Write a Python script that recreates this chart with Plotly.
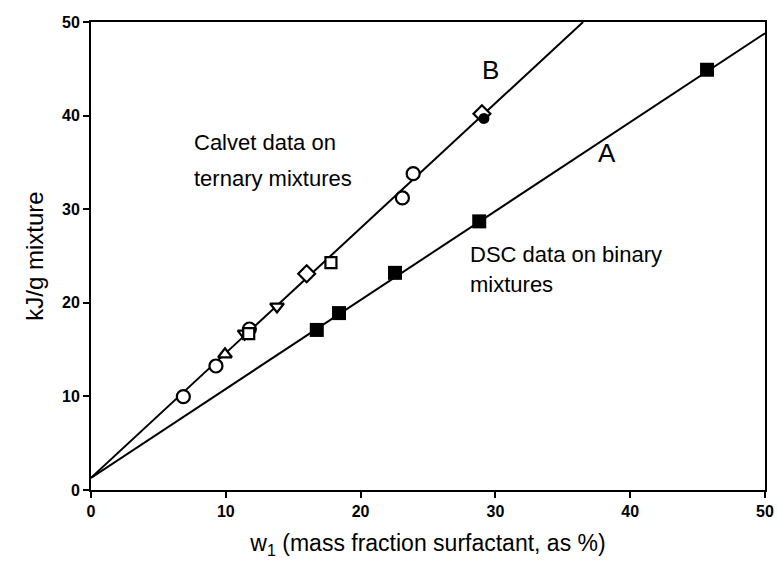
import plotly.graph_objects as go

# Line fits
line_intercept = 1.3
slope_A = 0.95
slope_B = 1.334

# Calvet data on ternary mixtures (open symbols)
calvet_circle_x = [6.85, 9.27, 11.75, 23.1, 23.9]
calvet_circle_y = [9.97, 13.25, 17.2, 31.2, 33.8]
calvet_triup_x = [9.94]
calvet_triup_y = [14.5]
calvet_tridown_x = [11.4, 13.8]
calvet_tridown_y = [16.7, 19.6]
calvet_square_x = [11.7, 17.8]
calvet_square_y = [16.7, 24.3]
calvet_diamond_x = [16.0, 29.0]
calvet_diamond_y = [23.1, 40.2]
calvet_filled_x = [29.15]
calvet_filled_y = [39.7]

# DSC data on binary mixtures (filled squares)
dsc_x = [16.75, 18.4, 22.55, 28.8, 45.7]
dsc_y = [17.1, 18.9, 23.2, 28.7, 44.9]

line_A_x = [0, 50]
line_A_y = [line_intercept + slope_A * x for x in line_A_x]
line_B_x = [0, (50 - line_intercept) / slope_B]
line_B_y = [line_intercept + slope_B * x for x in line_B_x]

FONT = "Liberation Sans, Arial"

fig = go.Figure()
fig.add_trace(go.Scatter(x=line_A_x, y=line_A_y, mode="lines",
                         line=dict(color="black", width=2), showlegend=False))
fig.add_trace(go.Scatter(x=line_B_x, y=line_B_y, mode="lines",
                         line=dict(color="black", width=2), showlegend=False))

def open_marker(x, y, symbol, size):
    fig.add_trace(go.Scatter(x=x, y=y, mode="markers", showlegend=False,
                             marker=dict(symbol=symbol, size=size, color="white",
                                         line=dict(color="black", width=2.2))))

open_marker(calvet_circle_x, calvet_circle_y, "circle", 13)
open_marker(calvet_triup_x, calvet_triup_y, "triangle-up", 12)
open_marker(calvet_tridown_x, calvet_tridown_y, "triangle-down", 12)
open_marker(calvet_square_x, calvet_square_y, "square", 11)
open_marker(calvet_diamond_x, calvet_diamond_y, "diamond", 13)
fig.add_trace(go.Scatter(x=calvet_filled_x, y=calvet_filled_y, mode="markers", showlegend=False,
                         marker=dict(symbol="circle", size=11, color="black")))
fig.add_trace(go.Scatter(x=dsc_x, y=dsc_y, mode="markers", showlegend=False,
                         marker=dict(symbol="square", size=14, color="black")))

txt_font = dict(family=FONT, size=22, color="black")
big_font = dict(family=FONT, size=26, color="black")
annotations = [
    dict(x=29.6, y=44.9, text="B", showarrow=False, font=big_font),
    dict(x=38.3, y=36.0, text="A", showarrow=False, font=big_font),
    dict(x=7.5, y=37.1, text="Calvet data on", showarrow=False, xanchor="left", font=txt_font),
    dict(x=7.5, y=33.3, text="ternary mixtures", showarrow=False, xanchor="left", font=txt_font),
    dict(x=28.0, y=25.2, text="DSC data on binary", showarrow=False, xanchor="left", font=txt_font),
    dict(x=28.0, y=22.0, text="mixtures", showarrow=False, xanchor="left", font=txt_font),
]

tick_font = dict(family=FONT, size=16, color="black", weight="bold")
fig.update_layout(
    width=777, height=571,
    margin=dict(l=91, r=12, t=22, b=81),
    paper_bgcolor="white", plot_bgcolor="white",
    annotations=annotations,
    font=dict(family=FONT, color="black"),
    xaxis=dict(range=[0, 50], tickvals=[0, 10, 20, 30, 40, 50], showgrid=False, zeroline=False,
               automargin=False,
               showline=True, mirror=True, linecolor="black", linewidth=2,
               ticks="outside", ticklen=6, tickcolor="black", tickwidth=1.5,
               tickfont=tick_font,
               title=dict(text="w<sub>1</sub> (mass fraction surfactant, as %)",
                          font=dict(family=FONT, size=23, color="black"), standoff=16)),
    yaxis=dict(range=[0, 50], tickvals=[0, 10, 20, 30, 40, 50], showgrid=False, zeroline=False,
               automargin=False,
               showline=True, mirror=True, linecolor="black", linewidth=2,
               ticks="outside", ticklen=6, tickcolor="black", tickwidth=1.5,
               tickfont=tick_font,
               title=dict(text="kJ/g mixture",
                          font=dict(family=FONT, size=24, color="black"), standoff=12)),
)

fig.write_html("out.html")
